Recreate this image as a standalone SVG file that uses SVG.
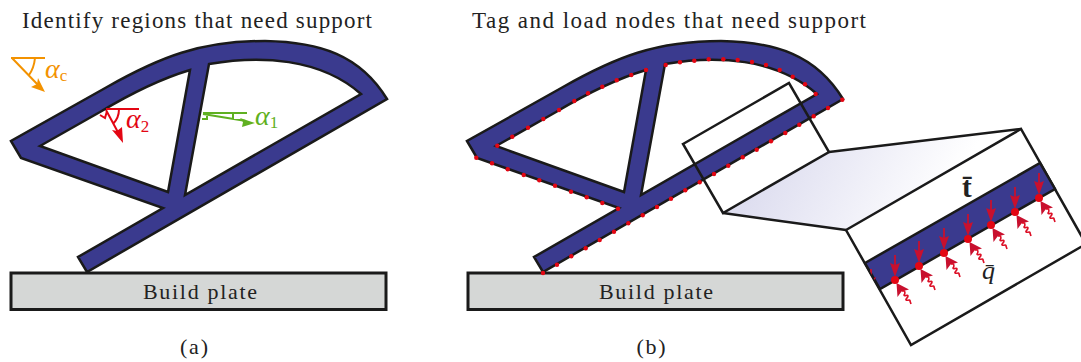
<svg xmlns="http://www.w3.org/2000/svg" width="1081" height="362" viewBox="0 0 1081 362">
<style>
text{font-family:"Liberation Serif",serif;fill:#222}
.ttl{font-size:23px}
.cap{font-size:22px}
.frame{fill:#3a3a8e;stroke:#1a1a1a;stroke-width:2.5;stroke-linejoin:miter;fill-rule:evenodd}
.plate{fill:#d5d7d6;stroke:#1a1a1a;stroke-width:3}
.ln{fill:none;stroke:#1a1a1a;stroke-width:2.5;stroke-linejoin:miter}
.dot{fill:#e30613}
.or{stroke:#f39200;fill:none;stroke-width:2}
.re{stroke:#e30613;fill:none;stroke-width:2}
.gr{stroke:#5fb021;fill:none;stroke-width:2}
.lbl{font-style:italic;font-size:28px}
.sub{font-style:normal;font-size:17px}
.load{stroke:#c8102e;fill:none;stroke-width:1.8}
.wave{stroke:#dc0f26;fill:none;stroke-width:1.6}
.loadf{fill:#c8102e}
</style>
<defs>
<path id="shape" class="frame" d="M11 141L21 158L163 208L78 257L87 272L387 99C360 55 320 42 265 41C200 41 160 57 107 87ZM40 146L100 112C130 94 160 79 190 70L168 192ZM209 64C260 55 320 58 361 94L185 195Z"/>
<linearGradient id="fade" gradientUnits="userSpaceOnUse" x1="770" y1="160" x2="920" y2="245">
<stop offset="0" stop-color="#dedef0"/><stop offset="1" stop-color="#ffffff"/>
</linearGradient>
<g id="load">
<path class="load" d="M0 -25V-12"/>
<path class="loadf" d="M0 -3L-5 -17L0 -15L5 -17Z"/>
<circle class="dot" r="4"/>
<path class="loadf" d="M1.500 3L2.500 17L6.500 11.500L14 9.500Z"/>
<path class="wave" d="M7 11C11 10 10 14 9 15C9 17 13 14 13 16C13 18 10 19 11 20C12 21 15 19 15 21L16 24"/>
</g>
<clipPath id="bandclip"><path d="M865 263L1040 163L1055 189L880 289Z"/></clipPath>
<clipPath id="page"><rect width="1081" height="362"/></clipPath>
</defs>
<g id="panel-a">
<text class="ttl" x="22" y="28" textLength="350">Identify regions that need support</text>
<g id="structure-a"><use href="#shape"/></g>
<g id="plate-a"><rect class="plate" x="11" y="273" width="375" height="36.500"/><text class="cap" x="200" y="299" text-anchor="middle" textLength="114">Build plate</text></g>
<g id="angle-c">
<path class="or" d="M11 58H45M12 58L40 87M35 58Q34 68 29 75"/>
<path d="M45 92L31 87L37 84L38 78Z" fill="#f39200"/>
<text class="lbl" x="45" y="78" style="fill:#f39200">α<tspan class="sub" dy="3">c</tspan></text>
</g>
<g id="angle-2">
<path class="re" d="M106 109H139M106 110L120 136M119 109Q119 118 113 124M100 115L105 118L107 111"/>
<path d="M123 143L112 130L117 131L122 127Z" fill="#e30613"/>
<text class="lbl" x="126" y="128" style="fill:#e30613">α<tspan class="sub" dy="4">2</tspan></text>
</g>
<g id="angle-1">
<path class="gr" d="M203 113H247M203 114L246 121M233 113V119M202 119H207V115"/>
<path d="M255 123L240 118L243 122L242 127Z" fill="#5fb021"/>
<text class="lbl" x="255" y="125" style="fill:#5fb021">α<tspan class="sub" dy="3">1</tspan></text>
</g>
<text id="caption-a" class="cap" x="194" y="354" text-anchor="middle" textLength="28">(a)</text>
</g>
<g id="panel-b">
<text class="ttl" x="472" y="28" textLength="394">Tag and load nodes that need support</text>
<g id="structure-b"><use href="#shape" x="456"/></g>
<g id="plate-b"><rect class="plate" x="468" y="273" width="375" height="36.500"/><text class="cap" x="656" y="299" text-anchor="middle" textLength="114">Build plate</text></g>
<g id="nodes" class="dot">
<circle cx="497.300" cy="145.700" r="2.200"/><circle cx="512.300" cy="136.700" r="2.200"/><circle cx="528" cy="127.700" r="2.200"/><circle cx="543.300" cy="119" r="2.200"/><circle cx="559" cy="110" r="2.200"/><circle cx="574.300" cy="101" r="2.200"/><circle cx="588" cy="93.300" r="2.200"/><circle cx="602.300" cy="86.700" r="2.200"/><circle cx="616.700" cy="80.300" r="2.200"/><circle cx="631.300" cy="75" r="2.200"/><circle cx="646" cy="70" r="2.200"/>
<circle cx="665.700" cy="65" r="2.200"/><circle cx="680" cy="62.300" r="2.200"/><circle cx="694.300" cy="60.700" r="2.200"/><circle cx="708.700" cy="59.300" r="2.200"/><circle cx="723.300" cy="59.300" r="2.200"/><circle cx="737.700" cy="60" r="2.200"/><circle cx="752" cy="62" r="2.200"/><circle cx="766" cy="65" r="2.200"/><circle cx="779.700" cy="70" r="2.200"/><circle cx="792.700" cy="76.700" r="2.200"/><circle cx="805" cy="84.300" r="2.200"/><circle cx="815.700" cy="94" r="2.200"/>
<circle cx="842.300" cy="99.700" r="2.200"/><circle cx="828" cy="108" r="2.200"/><circle cx="813.700" cy="116.300" r="2.200"/><circle cx="799.300" cy="124.700" r="2.200"/><circle cx="785.300" cy="133" r="2.200"/><circle cx="771" cy="141.300" r="2.200"/><circle cx="756.700" cy="149.700" r="2.200"/><circle cx="742.700" cy="157.300" r="2.200"/><circle cx="728.300" cy="165.700" r="2.200"/><circle cx="714" cy="174" r="2.200"/><circle cx="699.700" cy="182.300" r="2.200"/><circle cx="685.300" cy="190.300" r="2.200"/><circle cx="671" cy="198.700" r="2.200"/><circle cx="657" cy="207" r="2.200"/><circle cx="642.700" cy="215.300" r="2.200"/><circle cx="628.300" cy="223.300" r="2.200"/><circle cx="614" cy="231.700" r="2.200"/><circle cx="599.700" cy="240" r="2.200"/><circle cx="585.700" cy="248.300" r="2.200"/><circle cx="571.300" cy="256.300" r="2.200"/><circle cx="557" cy="264.700" r="2.200"/><circle cx="543" cy="273" r="2.200"/>
<circle cx="476.300" cy="157.700" r="2.200"/><circle cx="492" cy="163.300" r="2.200"/><circle cx="507.700" cy="169.300" r="2.200"/><circle cx="523.700" cy="175" r="2.200"/><circle cx="539.300" cy="180.300" r="2.200"/><circle cx="555" cy="185.700" r="2.200"/><circle cx="571" cy="191.700" r="2.200"/><circle cx="586.700" cy="197.300" r="2.200"/><circle cx="602.300" cy="203" r="2.200"/><circle cx="618" cy="208.700" r="2.200"/>
</g>
<g id="zoom-inset">
<path d="M829 152L1021 129L846 230L723 213Z" fill="url(#fade)"/>
<path class="ln" d="M829 152L1021 129M723 213L846 230"/>
<path class="ln" d="M683 144L789 83L829 152L723 213Z"/>
<g clip-path="url(#page)">
<path d="M846 230L1021 129L1086 244L911 345Z" fill="#fff" stroke="#1a1a1a" stroke-width="2.500"/>
<path class="frame" d="M865 263L1040 163L1055 189L880 289Z"/>
<g clip-path="url(#bandclip)"><use href="#load" x="871" y="294"/></g>
<use href="#load" x="895" y="280"/><use href="#load" x="919" y="266"/><use href="#load" x="944" y="253"/><use href="#load" x="968" y="239"/><use href="#load" x="991" y="225"/><use href="#load" x="1015" y="212"/><use href="#load" x="1039" y="198"/>
</g>
<text x="962" y="197" font-size="29" style="font-weight:bold">t̄</text>
<text x="982" y="279" font-size="26" style="font-style:italic">q̄</text>
</g>
<text id="caption-b" class="cap" x="651" y="354" text-anchor="middle" textLength="29">(b)</text>
</g>
</svg>
